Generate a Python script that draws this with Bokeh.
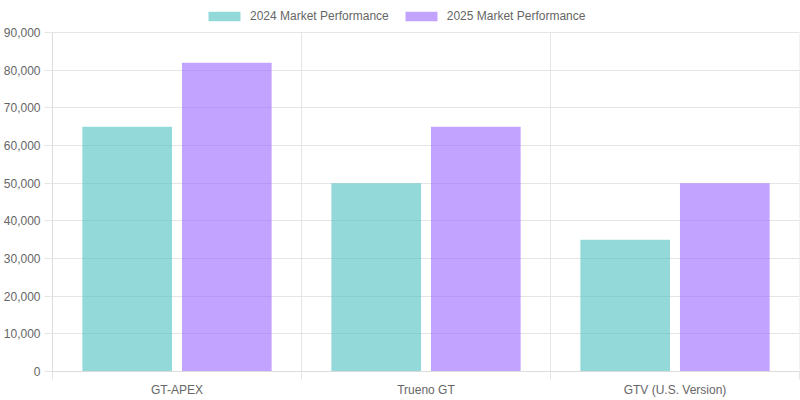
from bokeh.plotting import figure
from bokeh.models import (Range1d, LinearAxis, FixedTicker, CustomJSTickFormatter,
                          NumeralTickFormatter, Grid, Legend, LegendItem, ColumnDataSource)
from bokeh.transform import dodge
from bokeh.embed import file_html
from bokeh.resources import INLINE

categories = ["GT-APEX", "Trueno GT", "GTV (U.S. Version)"]
series_names = ["2024 Market Performance", "2025 Market Performance"]
values_2024 = [65000, 50000, 35000]
values_2025 = [82000, 65000, 50000]
y_ticks = [0, 10000, 20000, 30000, 40000, 50000, 60000, 70000, 80000, 90000]

FONT = "Liberation Sans"
TXT = "#666666"
GRID = "#e5e5e5"
TEAL = (75, 192, 192)
PURPLE = (153, 102, 255)

n = len(categories)
centers = [i + 0.5 for i in range(n)]
edges = list(range(n + 1))
y_max = y_ticks[-1]
# frame spans the legend strip too (frame 371 px tall, 90,000 sits 339 px above the base)
y_top = y_max * 371 / 339

src = ColumnDataSource(dict(cat=categories, pos=centers, v2024=values_2024, v2025=values_2025))

p = figure(width=800, height=400, x_range=Range1d(0, n), y_range=Range1d(0, y_top),
           output_backend="svg", toolbar_location=None,
           x_axis_location=None, y_axis_location=None,
           min_border_left=52, min_border_right=1, min_border_top=0, min_border_bottom=29)
p.outline_line_color = None
p.xgrid.visible = False
p.ygrid.visible = False

# y axis
yax = LinearAxis(ticker=FixedTicker(ticks=y_ticks), formatter=NumeralTickFormatter(format="0,0"),
                 bounds=(0, y_max),
                 major_tick_out=8, major_tick_in=0, minor_tick_out=0, minor_tick_in=0,
                 major_tick_line_color=GRID, axis_line_color="#dcdcdc",
                 major_label_text_font=FONT, major_label_text_font_size="12px",
                 major_label_text_color=TXT, major_label_standoff=4)
p.add_layout(yax, "left")

# x axis: labels at category centres, tick marks at category boundaries
xticker = FixedTicker(ticks=centers, minor_ticks=edges)
xax = LinearAxis(ticker=xticker,
                 formatter=CustomJSTickFormatter(args=dict(cats=categories),
                                                 code="return cats[Math.floor(tick)] || '';"),
                 major_tick_out=0, major_tick_in=0, minor_tick_out=8, minor_tick_in=0,
                 minor_tick_line_color=GRID, axis_line_color="#dcdcdc",
                 major_label_text_font=FONT, major_label_text_font_size="12px",
                 major_label_text_color=TXT, major_label_standoff=3)
p.add_layout(xax, "below")

p.add_layout(Grid(dimension=1, ticker=FixedTicker(ticks=y_ticks), grid_line_color=GRID))
# vertical category separators, limited to the value range
p.segment(x0=edges, y0=[0] * len(edges), x1=edges, y1=[y_max] * len(edges),
          line_color=GRID, line_width=1, level="underlay")

r1 = p.vbar(x=dodge("pos", -0.2), top="v2024", width=0.36, source=src,
            fill_color=TEAL, fill_alpha=0.6, line_color=None)
r2 = p.vbar(x=dodge("pos", 0.2), top="v2025", width=0.36, source=src,
            fill_color=PURPLE, fill_alpha=0.6, line_color=None)

legend = Legend(items=[LegendItem(label=series_names[0], renderers=[r1]),
                       LegendItem(label=series_names[1], renderers=[r2])],
                orientation="horizontal", location=(152, 348),
                glyph_width=40, glyph_height=12, label_standoff=6, spacing=12,
                label_text_font=FONT, label_text_font_size="12px", label_text_color=TXT,
                border_line_color=None, background_fill_alpha=0, padding=4, margin=0)
p.add_layout(legend, "center")

open("out.html", "w").write(file_html(p, INLINE))
